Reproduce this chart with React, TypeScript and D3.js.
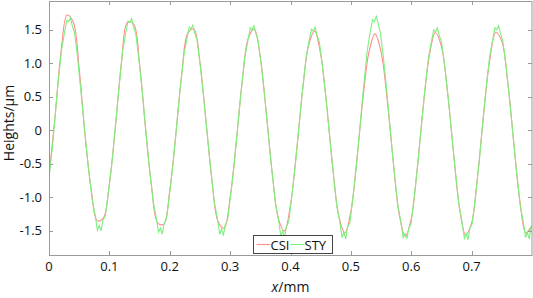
import React, { useEffect, useRef } from 'react';
import * as d3 from 'd3';

// CSI profile, sampled every 0.01 mm
const csiX = [
  0.00, 0.01, 0.02, 0.03, 0.04, 0.05, 0.06, 0.07, 0.08, 0.09,
  0.10, 0.11, 0.12, 0.13, 0.14, 0.15, 0.16, 0.17, 0.18, 0.19,
  0.20, 0.21, 0.22, 0.23, 0.24, 0.25, 0.26, 0.27, 0.28, 0.29,
  0.30, 0.31, 0.32, 0.33, 0.34, 0.35, 0.36, 0.37, 0.38, 0.39,
  0.40, 0.41, 0.42, 0.43, 0.44, 0.45, 0.46, 0.47, 0.48, 0.49,
  0.50, 0.51, 0.52, 0.53, 0.54, 0.55, 0.56, 0.57, 0.58, 0.59,
  0.60, 0.61, 0.62, 0.63, 0.64, 0.65, 0.66, 0.67, 0.68, 0.69,
  0.70, 0.71, 0.72, 0.73, 0.74, 0.75, 0.76, 0.77, 0.78, 0.79, 0.80
];
const csiY = [
  -0.67, 0.20, 1.18, 1.72, 1.62, 0.92, -0.10, -0.89, -1.35, -1.31,
  -0.80, 0.05, 1.01, 1.61, 1.59, 0.99, 0.01, -0.84, -1.38, -1.40,
  -0.90, -0.07, 0.85, 1.45, 1.51, 1.02, 0.14, -0.76, -1.36, -1.46,
  -1.01, -0.19, 0.73, 1.37, 1.51, 1.09, 0.25, -0.66, -1.32, -1.50,
  -1.11, -0.31, 0.59, 1.27, 1.48, 1.13, 0.37, -0.55, -1.28, -1.53,
  -1.21, -0.43, 0.47, 1.17, 1.44, 1.17, 0.47, -0.45, -1.25, -1.58,
  -1.32, -0.56, 0.36, 1.12, 1.46, 1.25, 0.58, -0.33, -1.16, -1.56,
  -1.38, -0.67, 0.25, 1.05, 1.46, 1.33, 0.70, -0.20, -1.06, -1.53, -1.42
];

// STY profile, denser around peaks and valleys (noisy)
const styX = [
  0.0000, 0.0060,
  0.0135, 0.0205, 0.0255, 0.0295, 0.0325, 0.0355, 0.0385, 0.0425, 0.0475, 0.0535,
  0.0642, 0.0712, 0.0762, 0.0802, 0.0832, 0.0862, 0.0892, 0.0932, 0.0982, 0.1042,
  0.1148, 0.1218, 0.1268, 0.1308, 0.1338, 0.1368, 0.1398, 0.1438, 0.1488, 0.1548,
  0.1655, 0.1725, 0.1775, 0.1815, 0.1845, 0.1875, 0.1905, 0.1945, 0.1995, 0.2055,
  0.2161, 0.2231, 0.2281, 0.2321, 0.2351, 0.2381, 0.2411, 0.2451, 0.2501, 0.2561,
  0.2668, 0.2738, 0.2788, 0.2828, 0.2858, 0.2888, 0.2918, 0.2958, 0.3008, 0.3068,
  0.3174, 0.3244, 0.3294, 0.3334, 0.3364, 0.3394, 0.3424, 0.3464, 0.3514, 0.3574,
  0.3681, 0.3751, 0.3801, 0.3841, 0.3871, 0.3901, 0.3931, 0.3971, 0.4021, 0.4081,
  0.4187, 0.4257, 0.4307, 0.4347, 0.4377, 0.4407, 0.4437, 0.4477, 0.4527, 0.4587,
  0.4694, 0.4764, 0.4814, 0.4854, 0.4884, 0.4914, 0.4944, 0.4984, 0.5034, 0.5094,
  0.5200, 0.5270, 0.5320, 0.5360, 0.5390, 0.5420, 0.5450, 0.5490, 0.5540, 0.5600,
  0.5707, 0.5777, 0.5827, 0.5867, 0.5897, 0.5927, 0.5957, 0.5997, 0.6047, 0.6107,
  0.6213, 0.6283, 0.6333, 0.6373, 0.6403, 0.6433, 0.6463, 0.6503, 0.6553, 0.6613,
  0.6720, 0.6790, 0.6840, 0.6880, 0.6910, 0.6940, 0.6970, 0.7010, 0.7060, 0.7120,
  0.7226, 0.7296, 0.7346, 0.7386, 0.7416, 0.7446, 0.7476, 0.7516, 0.7566, 0.7626,
  0.7733, 0.7803, 0.7853, 0.7893, 0.7923, 0.7953, 0.7983, 0.8023
];
const styY = [
  -0.72, -0.22,
  0.56, 1.18, 1.45, 1.64, 1.62, 1.68, 1.56, 1.45, 1.07, 0.52,
  -0.47, -1.02, -1.25, -1.49, -1.42, -1.50, -1.34, -1.28, -0.93, -0.49,
  0.53, 1.17, 1.44, 1.63, 1.61, 1.67, 1.55, 1.44, 1.06, 0.55,
  -0.50, -1.06, -1.30, -1.52, -1.46, -1.55, -1.40, -1.32, -0.96, -0.50,
  0.52, 1.10, 1.35, 1.54, 1.51, 1.57, 1.46, 1.35, 1.00, 0.49,
  -0.48, -1.07, -1.31, -1.55, -1.47, -1.57, -1.41, -1.34, -0.97, -0.50,
  0.51, 1.09, 1.34, 1.53, 1.50, 1.56, 1.45, 1.34, 0.99, 0.49,
  -0.51, -1.09, -1.33, -1.58, -1.50, -1.60, -1.44, -1.36, -0.99, -0.51,
  0.50, 1.08, 1.33, 1.51, 1.48, 1.54, 1.43, 1.32, 0.98, 0.48,
  -0.52, -1.11, -1.35, -1.60, -1.52, -1.62, -1.45, -1.38, -1.00, -0.52,
  0.55, 1.18, 1.47, 1.65, 1.62, 1.70, 1.60, 1.45, 1.08, 0.53,
  -0.52, -1.11, -1.36, -1.60, -1.54, -1.62, -1.47, -1.39, -1.01, -0.52,
  0.50, 1.07, 1.32, 1.50, 1.47, 1.53, 1.42, 1.31, 0.97, 0.48,
  -0.52, -1.11, -1.36, -1.61, -1.54, -1.63, -1.47, -1.39, -1.01, -0.52,
  0.51, 1.09, 1.34, 1.53, 1.50, 1.56, 1.45, 1.34, 0.99, 0.49,
  -0.52, -1.11, -1.35, -1.60, -1.52, -1.62, -1.45, -1.38
];

const xTicks = [0, 0.1, 0.2, 0.3, 0.4, 0.5, 0.6, 0.7];
const yTicks = [-1.5, -1.0, -0.5, 0, 0.5, 1.0, 1.5];
const seriesNames = ['CSI', 'STY'];
const seriesColors = ['#ff8a8a', '#7ef07e'];

const W = 533, H = 298;
const margin = { top: 1, right: 1, bottom: 43, left: 49 };

export default function App() {
  const ref = useRef<SVGSVGElement>(null);

  useEffect(() => {
    const svg = d3.select(ref.current);
    svg.selectAll('*').remove();
    const font = '"Open Sans", "Liberation Sans", sans-serif';
    const axisColor = '#9a9a9a';

    const x = d3.scaleLinear().domain([0, 0.8]).range([margin.left, W - margin.right]);
    const y = d3.scaleLinear().domain([-1.86, 1.93]).range([H - margin.bottom, margin.top]);

    const x0 = x.range()[0], x1 = x.range()[1];
    const y0 = y.range()[0], y1 = y.range()[1];

    svg.append('defs').append('clipPath').attr('id', 'plotclip')
      .append('rect')
      .attr('x', x0).attr('y', y1)
      .attr('width', x1 - x0).attr('height', y0 - y1);

    // series
    const csiData = csiX.map((d, i) => [d, csiY[i]] as [number, number]);
    const styData = styX.map((d, i) => [d, styY[i]] as [number, number]);

    const csiLine = d3.line<[number, number]>()
      .x(d => x(d[0])).y(d => y(d[1]))
      .curve(d3.curveCatmullRom.alpha(0.5));
    const styLine = d3.line<[number, number]>()
      .x(d => x(d[0])).y(d => y(d[1]));

    const plot = svg.append('g').attr('clip-path', 'url(#plotclip)');
    plot.append('path').datum(csiData)
      .attr('d', csiLine)
      .attr('fill', 'none')
      .attr('stroke', seriesColors[0])
      .attr('stroke-width', 1.1);
    plot.append('path').datum(styData)
      .attr('d', styLine)
      .attr('fill', 'none')
      .attr('stroke', seriesColors[1])
      .attr('stroke-width', 1.1);

    // frame
    svg.append('rect')
      .attr('x', x0 + 0.5).attr('y', y1 + 0.5)
      .attr('width', x1 - x0 - 0.5).attr('height', y0 - y1)
      .attr('fill', 'none')
      .attr('stroke', axisColor)
      .attr('stroke-width', 1);

    // ticks (inside, all four sides)
    const tk = 4;
    const g = svg.append('g').attr('stroke', axisColor).attr('stroke-width', 1);
    xTicks.forEach(t => {
      const px = Math.round(x(t)) + 0.5;
      g.append('line').attr('x1', px).attr('x2', px).attr('y1', y0).attr('y2', y0 - tk);
      g.append('line').attr('x1', px).attr('x2', px).attr('y1', y1).attr('y2', y1 + tk);
    });
    yTicks.forEach(t => {
      const py = Math.round(y(t)) + 0.5;
      g.append('line').attr('x1', x0).attr('x2', x0 + tk).attr('y1', py).attr('y2', py);
      g.append('line').attr('x1', x1).attr('x2', x1 - tk).attr('y1', py).attr('y2', py);
    });

    // tick labels
    svg.selectAll('.xlab').data(xTicks).join('text')
      .attr('class', 'xlab')
      .attr('x', d => x(d))
      .attr('y', 271)
      .attr('text-anchor', 'middle')
      .style('font-family', font)
      .style('font-size', '13px')
      .attr('fill', '#111')
      .text(d => (d === 0 ? '0' : d.toFixed(1)));

    svg.selectAll('.ylab').data(yTicks).join('text')
      .attr('class', 'ylab')
      .attr('x', 42)
      .attr('y', d => y(d) + 4.6)
      .attr('text-anchor', 'end')
      .style('font-family', font)
      .style('font-size', '13px')
      .attr('fill', '#111')
      .text(d => (d === 0 ? '0' : d.toFixed(1)));

    // axis titles
    const xt = svg.append('text')
      .attr('x', (x0 + x1) / 2)
      .attr('y', 292)
      .attr('text-anchor', 'middle')
      .style('font-family', font)
      .style('font-size', '14px')
      .attr('fill', '#111');
    xt.append('tspan').style('font-style', 'italic').text('x');
    xt.append('tspan').text('/mm');

    svg.append('text')
      .attr('transform', `translate(14, ${123}) rotate(-90)`)
      .attr('text-anchor', 'middle')
      .style('font-family', font)
      .style('font-size', '14px')
      .attr('fill', '#111')
      .text('Heights/μm');

    // legend
    const lg = svg.append('g').attr('transform', 'translate(253.5, 235.5)');
    lg.append('rect')
      .attr('width', 79).attr('height', 18)
      .attr('fill', '#fff')
      .attr('stroke', '#444')
      .attr('stroke-width', 1);
    const items = [
      { name: seriesNames[0], color: seriesColors[0], lx: 3, tx: 17 },
      { name: seriesNames[1], color: seriesColors[1], lx: 37, tx: 51 }
    ];
    items.forEach(it => {
      lg.append('line')
        .attr('x1', it.lx).attr('x2', it.lx + 14)
        .attr('y1', 9).attr('y2', 9)
        .attr('stroke', it.color)
        .attr('stroke-width', 1.1);
      lg.append('text')
        .attr('x', it.tx)
        .attr('y', 14)
        .style('font-family', font)
        .style('font-size', '13px')
        .attr('fill', '#111')
        .text(it.name);
    });
  }, []);

  return (
    <svg
      ref={ref}
      width={W}
      height={H}
      style={{ position: 'absolute', left: 0, top: 0, background: '#fff' }}
    />
  );
}
